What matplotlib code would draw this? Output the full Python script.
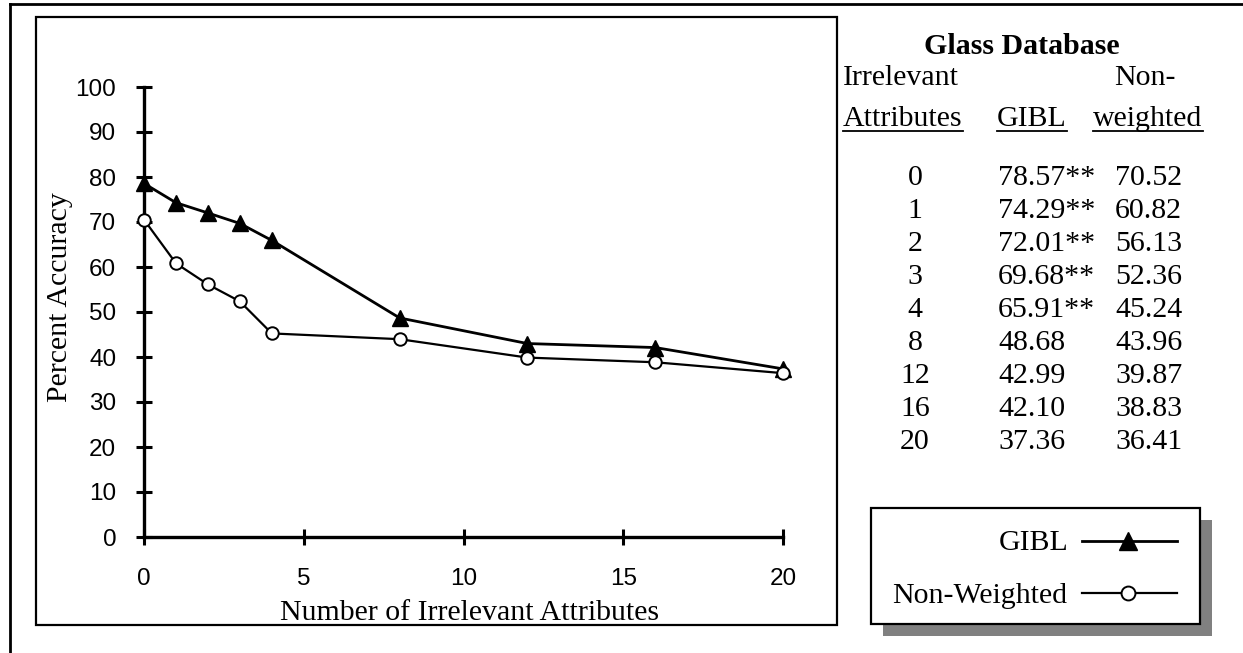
import matplotlib
matplotlib.use("Agg")
import matplotlib.pyplot as plt
from matplotlib.patches import Rectangle

# data
attrs = [0, 1, 2, 3, 4, 8, 12, 16, 20]
gibl = [78.57, 74.29, 72.01, 69.68, 65.91, 48.68, 42.99, 42.10, 37.36]
nonweighted = [70.52, 60.82, 56.13, 52.36, 45.24, 43.96, 39.87, 38.83, 36.41]
gibl_labels = ["78.57**", "74.29**", "72.01**", "69.68**", "65.91**",
               "48.68", "42.99", "42.10", "37.36"]
nw_labels = ["70.52", "60.82", "56.13", "52.36", "45.24",
             "43.96", "39.87", "38.83", "36.41"]
xticks = [0, 5, 10, 15, 20]
yticks = list(range(0, 101, 10))

SERIF = "Liberation Serif"
SANS = "Liberation Sans"
FS = 21.5

W, H = 1243, 653
fig = plt.figure(figsize=(W / 100, H / 100), dpi=100)

# background layer in pixel coordinates (borders, table, legend)
bg = fig.add_axes([0, 0, 1, 1], zorder=0)
bg.set_xlim(0, W)
bg.set_ylim(H, 0)
bg.axis("off")

# outer frame (runs off the right and bottom edges)
bg.plot([10, W + 5], [4, 4], color="black", lw=2)
bg.plot([10, 10], [4, H + 5], color="black", lw=2)
# inner chart box
bg.add_patch(Rectangle((36, 17), 801, 608, fill=False, ec="black", lw=1.6))

# main plot
ax = fig.add_axes([144 / W, (H - 537) / H, 639 / W, 450 / H], zorder=2)
ax.patch.set_alpha(0)
ax.plot(attrs, gibl, color="black", lw=2.0, marker="^", ms=12,
        mfc="black", mec="black", clip_on=False, zorder=3)
ax.plot(attrs, nonweighted, color="black", lw=1.6, marker="o", ms=9,
        mfc="white", mec="black", mew=1.4, clip_on=False, zorder=4)
ax.set_xlim(0, 20)
ax.set_ylim(0, 100)
ax.set_xticks(xticks)
ax.set_yticks(yticks)
for s in ["top", "right"]:
    ax.spines[s].set_visible(False)
for s in ["left", "bottom"]:
    ax.spines[s].set_linewidth(2.4)
ax.tick_params(direction="inout", length=11, width=2.2, labelsize=17.5)
ax.tick_params(axis="y", pad=14.5)
ax.tick_params(axis="x", pad=17)
for lab in ax.get_xticklabels() + ax.get_yticklabels():
    lab.set_fontfamily(SANS)
ax.set_xlabel("Number of Irrelevant Attributes", fontfamily=SERIF,
              fontsize=FS, va="baseline")
ax.xaxis.set_label_coords(0.51, (537 - 620) / 450)
ax.set_ylabel("Percent Accuracy", fontfamily=SERIF, fontsize=FS, va="center")
ax.yaxis.set_label_coords((60 - 144) / 639, (537 - 297) / 450)

# table on the right
bg.text(1022, 54, "Glass Database", fontfamily=SERIF, fontsize=FS,
        fontweight="bold", ha="center", va="baseline")
bg.text(843, 85, "Irrelevant", fontfamily=SERIF, fontsize=FS, ha="left", va="baseline")
bg.text(1145, 85, "Non-", fontfamily=SERIF, fontsize=FS, ha="center", va="baseline")
heads = [
    bg.text(843, 126, "Attributes", fontfamily=SERIF, fontsize=FS, ha="left", va="baseline"),
    bg.text(1032, 126, "GIBL", fontfamily=SERIF, fontsize=FS, ha="center", va="baseline"),
    bg.text(1148, 126, "weighted", fontfamily=SERIF, fontsize=FS, ha="center", va="baseline"),
]
for i, a in enumerate(attrs):
    yb = 185 + 33 * i
    bg.text(915, yb, str(a), fontfamily=SERIF, fontsize=FS, ha="center", va="baseline")
    bg.text(998, yb, gibl_labels[i], fontfamily=SERIF, fontsize=FS, ha="left", va="baseline")
    bg.text(1115, yb, nw_labels[i], fontfamily=SERIF, fontsize=FS, ha="left", va="baseline")

# underlines under the column headers
fig.canvas.draw()
renderer = fig.canvas.get_renderer()
inv = bg.transData.inverted()
for t in heads:
    bb = t.get_window_extent(renderer)
    (x0, _), (x1, _) = inv.transform([(bb.x0, bb.y0), (bb.x1, bb.y1)])
    bg.plot([x0, x1], [131, 131], color="black", lw=1.3)

# legend with drop shadow
bg.add_patch(Rectangle((883, 520), 329, 116, fc="#808080", ec="none"))
bg.add_patch(Rectangle((871, 508), 329, 116, fc="white", ec="black", lw=1.6))
bg.text(1069, 550, "GIBL", fontfamily=SERIF, fontsize=FS, ha="right", va="baseline")
bg.text(1067, 603, "Non-Weighted", fontfamily=SERIF, fontsize=FS, ha="right", va="baseline")
bg.plot([1082, 1177], [541, 541], color="black", lw=2.0)
bg.plot([1128], [541], marker="^", ms=13, color="black")
bg.plot([1082, 1177], [593, 593], color="black", lw=1.6)
bg.plot([1128], [593], marker="o", ms=10, mfc="white", mec="black", mew=1.4)

fig.savefig("out.png", dpi=100)
